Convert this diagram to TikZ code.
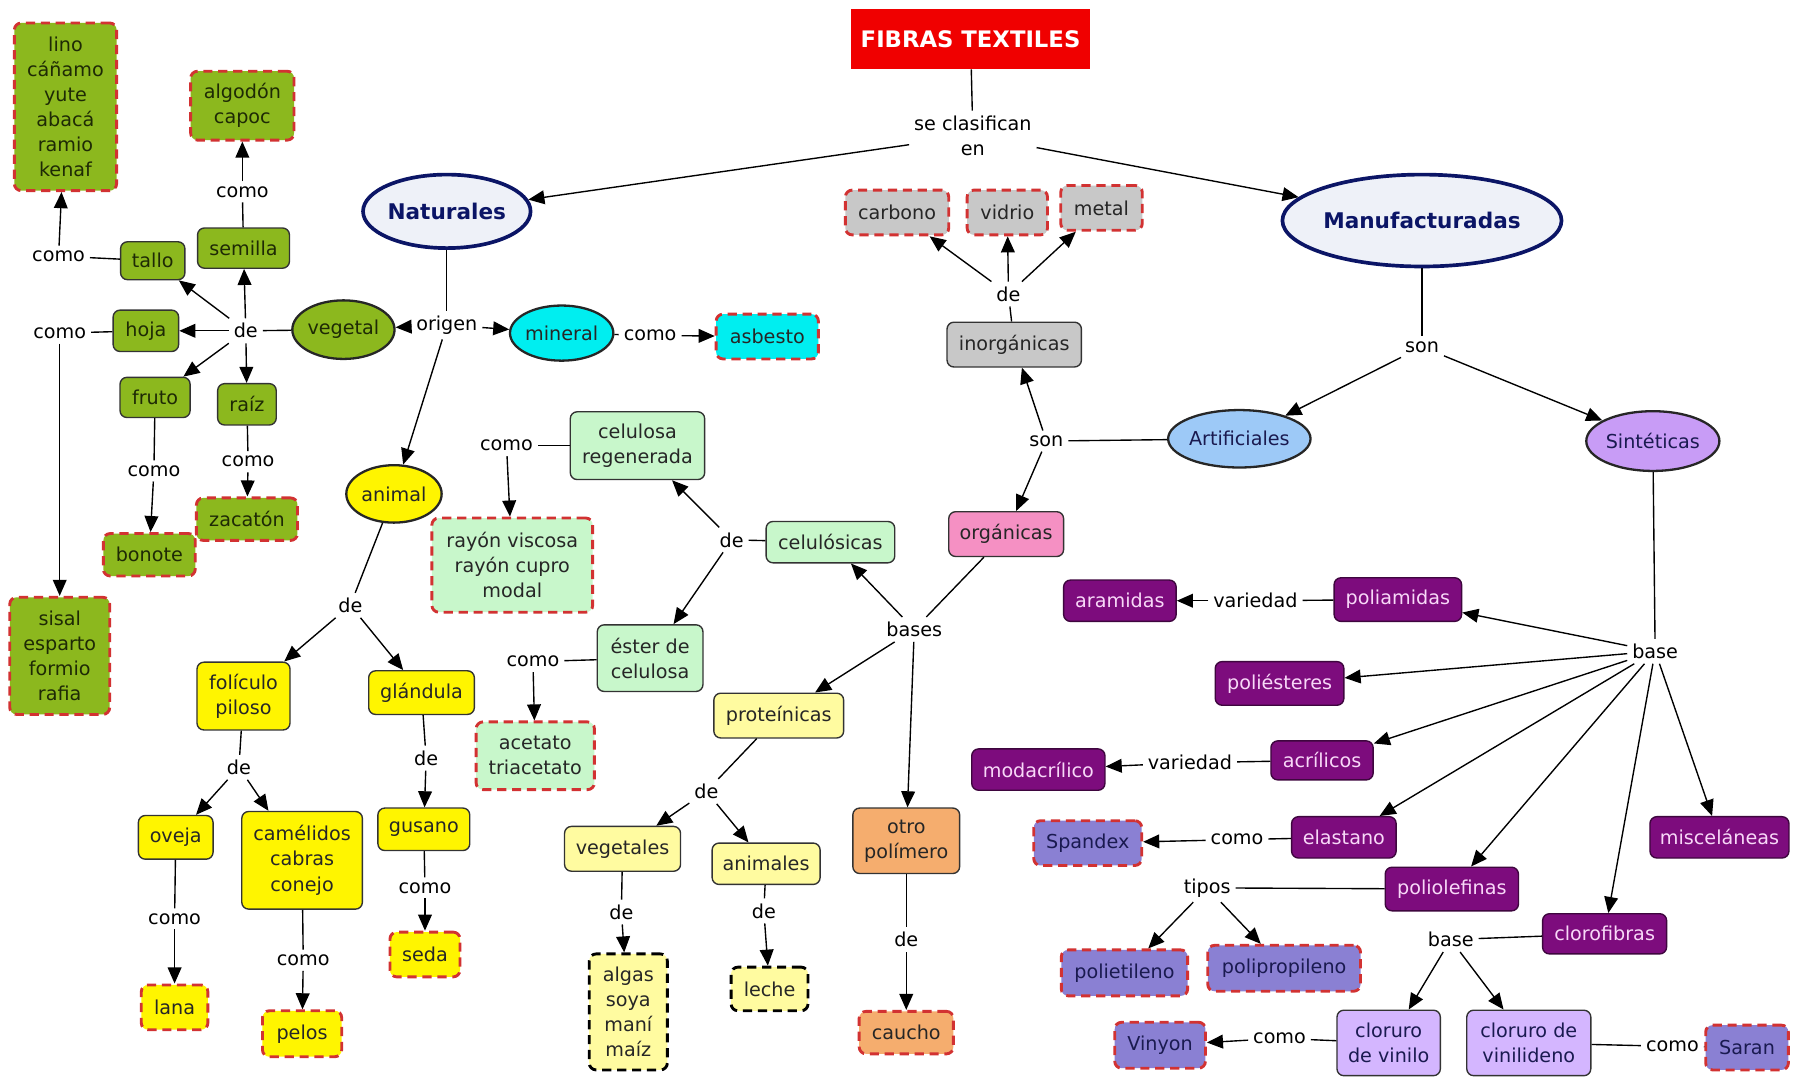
\documentclass[tikz,border=0pt]{standalone}
\usepackage{fontspec}
\setmainfont{DejaVu Sans}
\usetikzlibrary{arrows.meta,shapes.geometric}
\newcommand\fsN{\fontsize{8.35}{10.9}\selectfont}
\newcommand\fsBold{\fontsize{9.4}{11}\selectfont\bfseries}
\newcommand\fsTitle{\fontsize{9.9}{11}\selectfont\bfseries}
\definecolor{vgreen}{HTML}{8CB81E}
\definecolor{gtxt}{HTML}{1E2A05}
\definecolor{lgreen}{HTML}{C8F7CB}
\definecolor{yel}{HTML}{FFF500}
\definecolor{pyel}{HTML}{FFFBA0}
\definecolor{gry}{HTML}{C8C8C8}
\definecolor{pnk}{HTML}{F590C3}
\definecolor{org}{HTML}{F5AD6E}
\definecolor{dpur}{HTML}{7D0C7D}
\definecolor{ptxt}{HTML}{F8D8F8}
\definecolor{slate}{HTML}{8A80D3}
\definecolor{stxt}{HTML}{1A1A50}
\definecolor{lav}{HTML}{D4B6FF}
\definecolor{sint}{HTML}{C89CF6}
\definecolor{artf}{HTML}{9DC9F7}
\definecolor{cyn}{HTML}{00EEF0}
\definecolor{navy}{HTML}{0B1566}
\definecolor{ovfill}{HTML}{EEF1F8}
\definecolor{dred}{HTML}{D23232}
\definecolor{titred}{HTML}{F00000}
\begin{document}
\begin{tikzpicture}[x=0.5pt,y=-0.5pt,
  every node/.style={font=\fsN},
  wh/.style 2 args={minimum width=#1*0.5pt, minimum height=#2*0.5pt},
  box/.style={draw=black!80, line width=0.6pt, rounded corners=3pt, align=center, inner sep=1pt},
  ell/.style={ellipse, draw=black!85, line width=1pt, inner sep=0pt, align=center},
  redd/.style={draw=dred, line width=1.25pt, dash pattern=on 4pt off 2.5pt},
  bdash/.style={draw=black, line width=1.25pt, dash pattern=on 4pt off 2.5pt},
  gbox/.style={box, fill=vgreen, text=gtxt},
  ybox/.style={box, fill=yel, text=black!85},
  pybox/.style={box, fill=pyel, text=black!85},
  lgbox/.style={box, fill=lgreen, text=black!85},
  grbox/.style={box, fill=gry, text=black!85},
  pkbox/.style={box, fill=pnk, text=black!85},
  obox/.style={box, fill=org, text=black!85},
  cbox/.style={box, fill=cyn, text=black!85},
  pbox/.style={box, fill=dpur, text=ptxt, draw=black!50!dpur},
  sbox/.style={box, fill=slate, text=stxt},
  lvbox/.style={box, fill=lav, text=stxt},
  natell/.style={ell, fill=ovfill, draw=navy, line width=1.6pt, text=navy, font=\fsBold},
  gell/.style={ell, fill=vgreen, text=gtxt},
  yell/.style={ell, fill=yel, text=black!85},
  mell/.style={ell, fill=cyn, text=black!85},
  aell/.style={ell, fill=artf, text=stxt},
  sell/.style={ell, fill=sint, text=stxt},
  lbl/.style={inner sep=2pt, align=center},
  ln/.style={line width=0.6pt},
  arr/.style={line width=0.6pt, -{Triangle[length=7pt,width=6pt]}}]
\fill[white] (0,0) rectangle (1568,938);
\useasboundingbox (0,0) rectangle (1568,938);

% title
\node[fill=titred, font=\fsTitle, text=white, wh={208}{52}] (T) at (845,34) {FIBRAS TEXTILES};
\node[lbl] (sc) at (847,118) {se clasifican\\en};
\node[natell, wh={135}{64}] (nat) at (389,184) {Naturales};
\node[natell, wh={205}{80}] (man) at (1238,192) {Manufacturadas};

% vegetal
\node[gbox, redd, wh={89}{146}] (lino) at (57,93) {lino\\cáñamo\\yute\\abacá\\ramio\\kenaf};
\node[gbox, redd, wh={90}{60}] (algo) at (211,92) {algodón\\capoc};
\node[lbl] (c3) at (211,167) {como};
\node[gbox, wh={80}{35}] (semi) at (212,216) {semilla};
\node[gbox, wh={56}{33}] (tallo) at (133,227) {tallo};
\node[lbl] (c1) at (51,223) {como};
\node[gbox, wh={57}{36}] (hoja) at (127,288) {hoja};
\node[lbl] (c2) at (52,290) {como};
\node[lbl] (de1) at (214,288) {de};
\node[gell, wh={89}{51}] (veg) at (299,287) {vegetal};
\node[lbl] (orig) at (389,283) {origen};
\node[mell, wh={90}{48}] (min) at (489,290) {mineral};
\node[lbl] (c6) at (566,292) {como};
\node[cbox, redd, wh={89}{39}] (asb) at (668,293) {asbesto};
\node[gbox, wh={61}{35}] (fruto) at (135,346) {fruto};
\node[gbox, wh={51}{36}] (raiz) at (215,352) {raíz};
\node[lbl] (c4) at (134,410) {como};
\node[lbl] (c5) at (216,402) {como};
\node[gbox, redd, wh={88}{37}] (zaca) at (215,452) {zacatón};
\node[gbox, redd, wh={80}{37}] (bono) at (130,483) {bonote};
\node[gbox, redd, wh={87}{102}] (sisal) at (52,571) {sisal\\esparto\\formio\\rafia};

% animal
\node[yell, wh={83}{50}] (ani) at (343,430) {animal};
\node[lbl] (de2) at (305,527) {de};
\node[ybox, wh={81}{59}] (foli) at (212,606) {folículo\\piloso};
\node[ybox, wh={92}{38}] (glan) at (367,603) {glándula};
\node[lbl] (de3) at (208,668) {de};
\node[lbl] (de4) at (371,660) {de};
\node[ybox, wh={65}{38}] (ove) at (153,729) {oveja};
\node[ybox, wh={105}{85}] (cam) at (263,749) {camélidos\\cabras\\conejo};
\node[ybox, wh={80}{37}] (gus) at (369,722) {gusano};
\node[lbl] (c7) at (152,800) {como};
\node[lbl] (c8) at (264,836) {como};
\node[lbl] (c9) at (370,773) {como};
\node[ybox, redd, wh={58}{39}] (lana) at (152,877) {lana};
\node[ybox, redd, wh={69}{40}] (pelos) at (263,900) {pelos};
\node[ybox, redd, wh={61}{39}] (seda) at (370,831) {seda};

% inorganic / organic
\node[grbox, redd, wh={90}{39}] (carb) at (781,185) {carbono};
\node[grbox, redd, wh={70}{39}] (vid) at (877,185) {vidrio};
\node[grbox, redd, wh={71}{39}] (met) at (959,181) {metal};
\node[lbl] (de5) at (878,256) {de};
\node[grbox, wh={117}{39}] (inorg) at (883,300) {inorgánicas};
\node[lbl] (son2) at (911,384) {son};
\node[aell, wh={116}{50}] (artf) at (1079,382) {Artificiales};
\node[pkbox, wh={100}{39}] (orga) at (876,465) {orgánicas};

% cellulose
\node[lgbox, wh={117}{59}] (celreg) at (555,388) {celulosa\\regenerada};
\node[lbl] (c10) at (441,388) {como};
\node[lgbox, redd, wh={140}{82}] (rayon) at (446,492) {rayón viscosa\\rayón cupro\\modal};
\node[lbl] (de6) at (637,470) {de};
\node[lgbox, wh={112}{36}] (celu) at (723,472) {celulósicas};
\node[lbl] (bases) at (796,548) {bases};
\node[lgbox, wh={92}{58}] (ester) at (566,573) {éster de\\celulosa};
\node[lbl] (c11) at (464,576) {como};
\node[lgbox, redd, wh={103}{59}] (acet) at (466,658) {acetato\\triacetato};
\node[pybox, wh={113}{39}] (prot) at (678,623) {proteínicas};
\node[lbl] (de7) at (615,689) {de};
\node[pybox, wh={101}{39}] (vegt) at (542,739) {vegetales};
\node[pybox, wh={94}{36}] (anim) at (667,752) {animales};
\node[lbl] (de8) at (541,794) {de};
\node[lbl] (de9) at (665,793) {de};
\node[pybox, bdash, wh={68}{101}] (algas) at (547,881) {algas\\soya\\maní\\maíz};
\node[pybox, bdash, wh={67}{38}] (leche) at (670,861) {leche};
\node[obox, wh={93}{57}] (otro) at (789,732) {otro\\polímero};
\node[lbl] (de10) at (789,818) {de};
\node[obox, redd, wh={82}{37}] (cau) at (789,899) {caucho};

% synthetic
\node[lbl] (son1) at (1238,302) {son};
\node[sell, wh={108}{52}] (sint) at (1439,384) {Sintéticas};
\node[pbox, wh={98}{36}] (aram) at (975,523) {aramidas};
\node[lbl] (var1) at (1093,523) {variedad};
\node[pbox, wh={111}{38}] (pam) at (1217,522) {poliamidas};
\node[lbl] (base1) at (1441,567) {base};
\node[pbox, wh={112}{38}] (pes) at (1114,595) {poliésteres};
\node[pbox, wh={116}{36}] (moda) at (904,670) {modacrílico};
\node[lbl] (var2) at (1036,664) {variedad};
\node[pbox, wh={89}{34}] (acr) at (1151,662) {acrílicos};
\node[sbox, redd, wh={94}{39}] (spx) at (947,734) {Spandex};
\node[lbl] (c12) at (1077,731) {como};
\node[pbox, wh={91}{36}] (ela) at (1170,729) {elastano};
\node[pbox, wh={121}{36}] (misc) at (1497,729) {misceláneas};
\node[lbl] (tip) at (1051,773) {tipos};
\node[pbox, wh={116}{38}] (pol) at (1264,774) {poliolefinas};
\node[pbox, wh={108}{35}] (clo) at (1397,813) {clorofibras};
\node[lbl] (base2) at (1263,818) {base};
\node[sbox, redd, wh={110}{40}] (pet) at (979,847) {polietileno};
\node[sbox, redd, wh={133}{40}] (ppr) at (1118,843) {polipropileno};
\node[sbox, redd, wh={79}{40}] (viny) at (1010,910) {Vinyon};
\node[lbl] (c13) at (1114,904) {como};
\node[lvbox, wh={90}{57}] (clv) at (1209,908) {cloruro\\de vinilo};
\node[lvbox, wh={108}{57}] (clvd) at (1331,908) {cloruro de\\vinilideno};
\node[lbl] (c14) at (1456,911) {como};
\node[sbox, redd, wh={72}{39}] (sar) at (1521,912) {Saran};

% connectors
\draw[ln] (T) -- (sc);
\draw[arr] (sc) -- (nat);
\draw[arr] (sc) -- (man);
\draw[ln] (nat) -- (orig);
\draw[arr] (orig) -- (veg);
\draw[arr] (orig) -- (min);
\draw[arr] (orig) -- (ani);
\draw[ln] (veg) -- (de1);
\foreach \t in {tallo,semi,hoja,fruto,raiz} \draw[arr] (de1) -- (\t);
\draw[ln] (tallo) -- (c1); \draw[arr] (c1) -- (lino);
\draw[ln] (hoja) -- (c2); \draw[arr] (c2) -- (sisal);
\draw[ln] (semi) -- (c3); \draw[arr] (c3) -- (algo);
\draw[ln] (fruto) -- (c4); \draw[arr] (c4) -- (bono);
\draw[ln] (raiz) -- (c5); \draw[arr] (c5) -- (zaca);
\draw[ln] (min) -- (c6); \draw[arr] (c6) -- (asb);
\draw[ln] (ani) -- (de2); \draw[arr] (de2) -- (foli); \draw[arr] (de2) -- (glan);
\draw[ln] (foli) -- (de3); \draw[arr] (de3) -- (ove); \draw[arr] (de3) -- (cam);
\draw[ln] (glan) -- (de4); \draw[arr] (de4) -- (gus);
\draw[ln] (ove) -- (c7); \draw[arr] (c7) -- (lana);
\draw[ln] (cam) -- (c8); \draw[arr] (c8) -- (pelos);
\draw[ln] (gus) -- (c9); \draw[arr] (c9) -- (seda);

\draw[ln] (man) -- (son1);
\draw[arr] (son1) -- (artf);
\draw[arr] (son1) -- (sint);
\draw[ln] (artf) -- (son2);
\draw[arr] (son2) -- (inorg);
\draw[arr] (son2) -- (orga);
\draw[ln] (inorg) -- (de5);
\foreach \t in {carb,vid,met} \draw[arr] (de5) -- (\t);
\draw[ln] (orga) -- (bases);
\foreach \t in {celu,prot,otro} \draw[arr] (bases) -- (\t);
\draw[ln] (celu) -- (de6);
\draw[arr] (de6) -- (celreg);
\draw[arr] (de6) -- (ester);
\draw[ln] (celreg) -- (c10); \draw[arr] (c10) -- (rayon);
\draw[ln] (ester) -- (c11); \draw[arr] (c11) -- (acet);
\draw[ln] (prot) -- (de7); \draw[arr] (de7) -- (vegt); \draw[arr] (de7) -- (anim);
\draw[ln] (vegt) -- (de8); \draw[arr] (de8) -- (algas);
\draw[ln] (anim) -- (de9); \draw[arr] (de9) -- (leche);
\draw[ln] (otro) -- (de10); \draw[arr] (de10) -- (cau);

\draw[ln] (sint) -- (base1);
\foreach \t in {pam,pes,acr,ela,pol,clo,misc} \draw[arr] (base1) -- (\t);
\draw[ln] (pam) -- (var1); \draw[arr] (var1) -- (aram);
\draw[ln] (acr) -- (var2); \draw[arr] (var2) -- (moda);
\draw[ln] (ela) -- (c12); \draw[arr] (c12) -- (spx);
\draw[ln] (pol) -- (tip); \draw[arr] (tip) -- (pet); \draw[arr] (tip) -- (ppr);
\draw[ln] (clo) -- (base2); \draw[arr] (base2) -- (clv); \draw[arr] (base2) -- (clvd);
\draw[ln] (clv) -- (c13); \draw[arr] (c13) -- (viny);
\draw[ln] (clvd) -- (c14); \draw[ln] (c14) -- (sar);
\end{tikzpicture}
\end{document}
